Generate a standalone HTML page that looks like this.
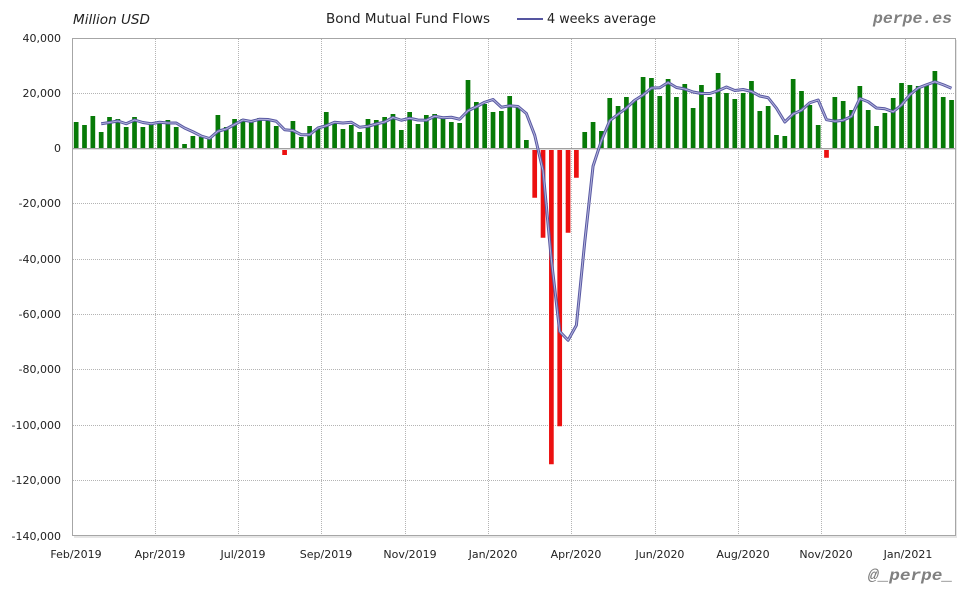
<!DOCTYPE html>
<html>
<head>
<meta charset="utf-8">
<style>
html,body{margin:0;padding:0;background:#fff;}
svg{display:block;}
.ax{font-family:"DejaVu Sans","Liberation Sans",sans-serif;font-size:11px;fill:#222;}
</style>
</head>
<body>
<svg width="980" height="600" viewBox="0 0 980 600" xmlns="http://www.w3.org/2000/svg" xmlns:xlink="http://www.w3.org/1999/xlink">
<defs>
<polyline id="ma" fill="none" stroke-linejoin="round" vector-effect="non-scaling-stroke" points="3.5,123.75 4.5,122.5 5.5,121 6.5,123.75 7.5,120 8.5,122.5 9.5,123.75 10.5,122.25 11.5,123 12.5,123 13.5,128 14.5,131.75 15.5,136 16.5,138.5 17.5,131.25 18.5,129 19.5,124.5 20.5,120 21.5,121.5 22.5,119.25 23.5,119.5 24.5,121.25 25.5,129.75 26.5,130.5 27.5,134.75 28.5,134.75 29.5,128 30.5,125.75 31.5,122.25 32.5,123 33.5,122.25 34.5,127.25 35.5,126.25 36.5,124 37.5,122 38.5,117.5 39.5,120.25 40.5,118.25 41.5,120 42.5,120.25 43.5,116.25 44.5,117.75 45.5,117.25 46.5,119.25 47.5,110.75 48.5,106.75 49.5,102.25 50.5,99.5 51.5,107.25 52.5,105.75 53.5,106.5 54.5,113.5 55.5,135.2 56.5,170.6 57.5,259.9 58.5,331.5 59.5,340.25 60.5,325.25 61.5,242.2 62.5,166.1 63.5,140.7 64.5,120.75 65.5,114.25 66.5,108 67.5,100.25 68.5,95 69.5,88 70.5,87.75 71.5,82.5 72.5,87.5 73.5,89 74.5,92 75.5,93.5 76.5,93.5 77.5,90.75 78.5,87 79.5,90.5 80.5,89.5 81.5,91.5 82.5,96 83.5,97.75 84.5,108.25 85.5,122 86.5,114 87.5,110.25 88.5,102.75 89.5,100 90.5,119.7 91.5,121.2 92.5,120.2 93.5,116.4 94.5,98.5 95.5,101.75 96.5,108 97.5,108.75 98.5,111.75 99.5,105 100.5,94.75 101.5,88 102.5,84.75 103.5,81.75 104.5,84.75 105.5,88.25"/>
</defs>
<rect x="0" y="0" width="980" height="600" fill="#fff"/>
<rect x="74" y="40" width="883" height="498" fill="#e6e6e6"/>
<rect x="72.5" y="38.5" width="883" height="497" fill="#fff"/>

<path stroke="#b4b4b4" stroke-width="1" stroke-dasharray="1,1" fill="none" d="M73 93.5H955M73 203.5H955M73 259.5H955M73 314.5H955M73 369.5H955M73 425.5H955M73 480.5H955M155.5 39V535M238.5 39V535M321.5 39V535M405.5 39V535M488.5 39V535M571.5 39V535M655.5 39V535M738.5 39V535M821.5 39V535M905.5 39V535"/>

<g transform="translate(72,0) scale(8.337,1)">
<path fill="none" stroke="#077a07" stroke-width="4.7" vector-effect="non-scaling-stroke" d="M0.5 148V122M1.5 148V125M2.5 148V116M3.5 148V132M4.5 148V117M5.5 148V119M6.5 148V127M7.5 148V117M8.5 148V127M9.5 148V124M10.5 148V121M11.5 148V120M12.5 148V127M13.5 148V144M14.5 148V136M15.5 148V137M16.5 148V137M17.5 148V115M18.5 148V127M19.5 148V119M20.5 148V119M21.5 148V121M22.5 148V118M23.5 148V120M24.5 148V126M26.5 148V121M27.5 148V137M28.5 148V126M29.5 148V128M30.5 148V112M31.5 148V123M32.5 148V129M33.5 148V125M34.5 148V132M35.5 148V119M36.5 148V120M37.5 148V117M38.5 148V114M39.5 148V130M40.5 148V112M41.5 148V124M42.5 148V115M43.5 148V114M44.5 148V118M45.5 148V122M46.5 148V123M47.5 148V80M48.5 148V102M49.5 148V104M50.5 148V112M51.5 148V111M52.5 148V96M53.5 148V107M54.5 148V140M61.5 148V132M62.5 148V122M63.5 148V131M64.5 148V98M65.5 148V106M66.5 148V97M67.5 148V100M68.5 148V77M69.5 148V78M70.5 148V96M71.5 148V79M72.5 148V97M73.5 148V84M74.5 148V108M75.5 148V85M76.5 148V97M77.5 148V73M78.5 148V93M79.5 148V99M80.5 148V93M81.5 148V81M82.5 148V111M83.5 148V106M84.5 148V135M85.5 148V136M86.5 148V79M87.5 148V91M88.5 148V105M89.5 148V125M91.5 148V97M92.5 148V101M93.5 148V110M94.5 148V86M95.5 148V110M96.5 148V126M97.5 148V113M98.5 148V98M99.5 148V83M100.5 148V85M101.5 148V86M102.5 148V85M103.5 148V71M104.5 148V97M105.5 148V100"/>
<path fill="none" stroke="#ec1010" stroke-width="4.7" vector-effect="non-scaling-stroke" d="M25.5 148V155M55.5 148V197.7M56.5 148V237.7M57.5 148V464.3M58.5 148V426.3M59.5 148V232.7M60.5 148V177.7M90.5 148V157.7"/>
</g>

<line x1="73" y1="149.5" x2="955" y2="149.5" stroke="#e0e0e0" stroke-width="1"/>
<line x1="73" y1="148.5" x2="955" y2="148.5" stroke="#a0a0a0" stroke-width="1"/>

<g transform="translate(72,0) scale(8.337,1)">
<use href="#ma" xlink:href="#ma" stroke="#5858a2" stroke-width="3"/>
<use href="#ma" xlink:href="#ma" stroke="#b4b4dc" stroke-width="1"/>
</g>

<rect x="72.5" y="38.5" width="883" height="497" fill="none" stroke="#a6a6a6" stroke-width="1"/>

<g class="ax" text-anchor="end">
<text x="61" y="42">40,000</text>
<text x="61" y="97">20,000</text>
<text x="61" y="152">0</text>
<text x="61" y="207">-20,000</text>
<text x="61" y="263">-40,000</text>
<text x="61" y="318">-60,000</text>
<text x="61" y="373">-80,000</text>
<text x="61" y="429">-100,000</text>
<text x="61" y="484">-120,000</text>
<text x="61" y="540">-140,000</text>
</g>

<g class="ax" text-anchor="middle">
<text x="76" y="558">Feb/2019</text>
<text x="160" y="558">Apr/2019</text>
<text x="243" y="558">Jul/2019</text>
<text x="326" y="558">Sep/2019</text>
<text x="410" y="558">Nov/2019</text>
<text x="493" y="558">Jan/2020</text>
<text x="576" y="558">Apr/2020</text>
<text x="660" y="558">Jun/2020</text>
<text x="743" y="558">Aug/2020</text>
<text x="826" y="558">Nov/2020</text>
<text x="908" y="558">Jan/2021</text>
</g>

<text x="73" y="24" font-family="DejaVu Sans, Liberation Sans, sans-serif" font-style="italic" font-size="13.5" fill="#222" textLength="77" lengthAdjust="spacingAndGlyphs">Million USD</text>
<text x="326" y="23" font-family="DejaVu Sans, Liberation Sans, sans-serif" font-size="13.5" fill="#222" textLength="164" lengthAdjust="spacingAndGlyphs">Bond Mutual Fund Flows</text>
<line x1="517" y1="19" x2="543" y2="19" stroke="#5555a0" stroke-width="2"/>
<text x="547" y="23" font-family="DejaVu Sans, Liberation Sans, sans-serif" font-size="13.5" fill="#222" textLength="109" lengthAdjust="spacingAndGlyphs">4 weeks average</text>
<text x="873" y="23" font-family="Liberation Mono, DejaVu Sans Mono, monospace" font-weight="bold" font-style="italic" font-size="16" fill="#808080" textLength="79" lengthAdjust="spacingAndGlyphs">perpe.es</text>
<text x="868" y="580" font-family="Liberation Mono, DejaVu Sans Mono, monospace" font-weight="bold" font-style="italic" font-size="16" fill="#808080" textLength="85" lengthAdjust="spacingAndGlyphs">@_perpe_</text>
</svg>
</body>
</html>
